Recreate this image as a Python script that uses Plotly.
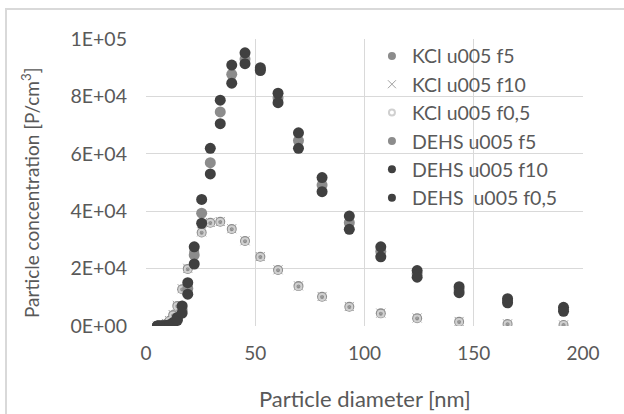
import plotly.graph_objects as go

# Particle diameters [nm]
diameter = [5.23, 6.04, 6.98, 8.06, 9.31, 10.75, 12.41, 14.33, 16.55, 19.11, 22.07,
            25.48, 29.43, 33.98, 39.24, 45.32, 52.33, 60.43, 69.78, 80.58, 93.05,
            107.46, 124.09, 143.30, 165.48, 191.09]

kcl_f5 = [0, 20, 100, 300, 800, 1800, 3800, 7000, 12800, 19900, 25800,
          32600, 36000, 36300, 33800, 29600, 24100, 19500, 13900, 10200, 6700,
          4400, 2700, 1500, 700, 350]
kcl_f10 = [0, 30, 120, 350, 900, 1900, 4000, 7200, 13000, 20100, 26000,
           32800, 36100, 36400, 33900, 29700, 24200, 19600, 14000, 10300, 6800,
           4500, 2800, 1600, 750, 380]
kcl_f05 = [0, 20, 90, 280, 750, 1700, 3700, 6900, 12700, 19800, 25700,
           32500, 35900, 36200, 33700, 29500, 24000, 19400, 13800, 10100, 6600,
           4300, 2600, 1400, 650, 320]
dehs_f5 = [0, 0, 0, 30, 100, 300, 900, 2400, 5600, 13100, 24700,
           39300, 56900, 74600, 87700, 93000, 89500, 79500, 64600, 49100, 36000,
           26000, 18200, 12600, 8800, 5800]
dehs_f10 = [0, 0, 0, 50, 150, 400, 1200, 3000, 7000, 15100, 27600,
            44100, 61900, 78700, 90900, 95200, 90000, 81100, 67300, 51700, 38300,
            27600, 19300, 13700, 9500, 6500]
dehs_f05 = [0, 0, 0, 20, 80, 250, 800, 2000, 4500, 11100, 21600,
            35800, 53000, 70500, 84600, 91400, 89000, 77800, 61900, 46800, 33700,
            24100, 17000, 11600, 8100, 5100]

y_tickvals = [0, 20000, 40000, 60000, 80000, 100000]
y_ticktext = ["0E+00", "2E+04", "4E+04", "6E+04", "8E+04", "1E+05"]
x_tickvals = [0, 50, 100, 150, 200]

FONT = "Lato"
TXT = "#595959"

fig = go.Figure()

series = [
    ("KCl u005 f5", kcl_f5, dict(symbol="circle", size=10, color="#8c8c8c")),
    ("KCl u005 f10", kcl_f10, dict(symbol="x-thin", size=9, color="#a0a0a0",
                                   line=dict(color="#a0a0a0", width=1))),
    ("KCl u005 f0,5", kcl_f05, dict(symbol="circle-open", size=6, color="#d0d0d0",
                                    line=dict(color="#d0d0d0", width=2))),
    ("DEHS u005 f5", dehs_f5, dict(symbol="circle", size=11, color="#8c8c8c")),
    ("DEHS u005 f10", dehs_f10, dict(symbol="circle", size=11, color="#404040")),
    ("DEHS  u005 f0,5", dehs_f05, dict(symbol="circle", size=11, color="#404040")),
]

legend_sizes = [8, 8, 6, 8, 8, 8]
for (name, vals, mk), ls in zip(series, legend_sizes):
    fig.add_trace(go.Scatter(x=diameter, y=vals, mode="markers", name=name,
                             marker=mk, showlegend=False))
for (name, vals, mk), ls in zip(series, legend_sizes):
    lm = dict(mk)
    lm["size"] = ls
    fig.add_trace(go.Scatter(x=[None], y=[None], mode="markers", name=name,
                             marker=lm, showlegend=True))

fig.update_layout(
    width=624, height=414,
    margin=dict(l=146, r=41, t=39, b=88),
    paper_bgcolor="white", plot_bgcolor="white",
    font=dict(family=FONT, color=TXT),
    showlegend=True,
    legend=dict(x=0.517, y=1.008, xanchor="left", yanchor="top",
                bgcolor="rgba(0,0,0,0)", font=dict(size=19.5, color=TXT, family=FONT),
                itemwidth=30),
    xaxis=dict(range=[0, 200], tickvals=x_tickvals, showgrid=True,
               gridcolor="#d9d9d9", gridwidth=1, zeroline=False, showline=False,
               ticks="", tickfont=dict(size=19, color=TXT), ticklabelstandoff=14),
    yaxis=dict(range=[0, 100000], tickvals=y_tickvals, ticktext=y_ticktext,
               showgrid=True, gridcolor="#d9d9d9", gridwidth=1, zeroline=False,
               showline=False, ticks="", tickfont=dict(size=19.5, color=TXT),
               ticklabelstandoff=18),
    annotations=[
        dict(text="Particle diameter [nm]", xref="paper", yref="paper",
             x=0.5, y=(326 - 398) / 287, xanchor="center", yanchor="middle",
             showarrow=False, font=dict(size=22, color=TXT, family=FONT)),
        dict(text="Particle concentration [P/cm<sup>3</sup>]", xref="paper", yref="paper",
             x=(30 - 146) / 437, y=(326 - 193) / 287, xanchor="center", yanchor="middle",
             textangle=-90, showarrow=False, font=dict(size=19, color=TXT, family=FONT)),
    ],
    shapes=[
        dict(type="rect", xref="paper", yref="paper",
             x0=(6 - 146) / 437, x1=(640 - 146) / 437,
             y0=(326 - 430) / 287, y1=(326 - 9) / 287,
             line=dict(color="#d9d9d9", width=2), layer="below"),
    ],
)

fig.write_html("out.html", config={"displayModeBar": False},
               post_script="document.body.style.margin='0';document.body.style.overflow='hidden';")
